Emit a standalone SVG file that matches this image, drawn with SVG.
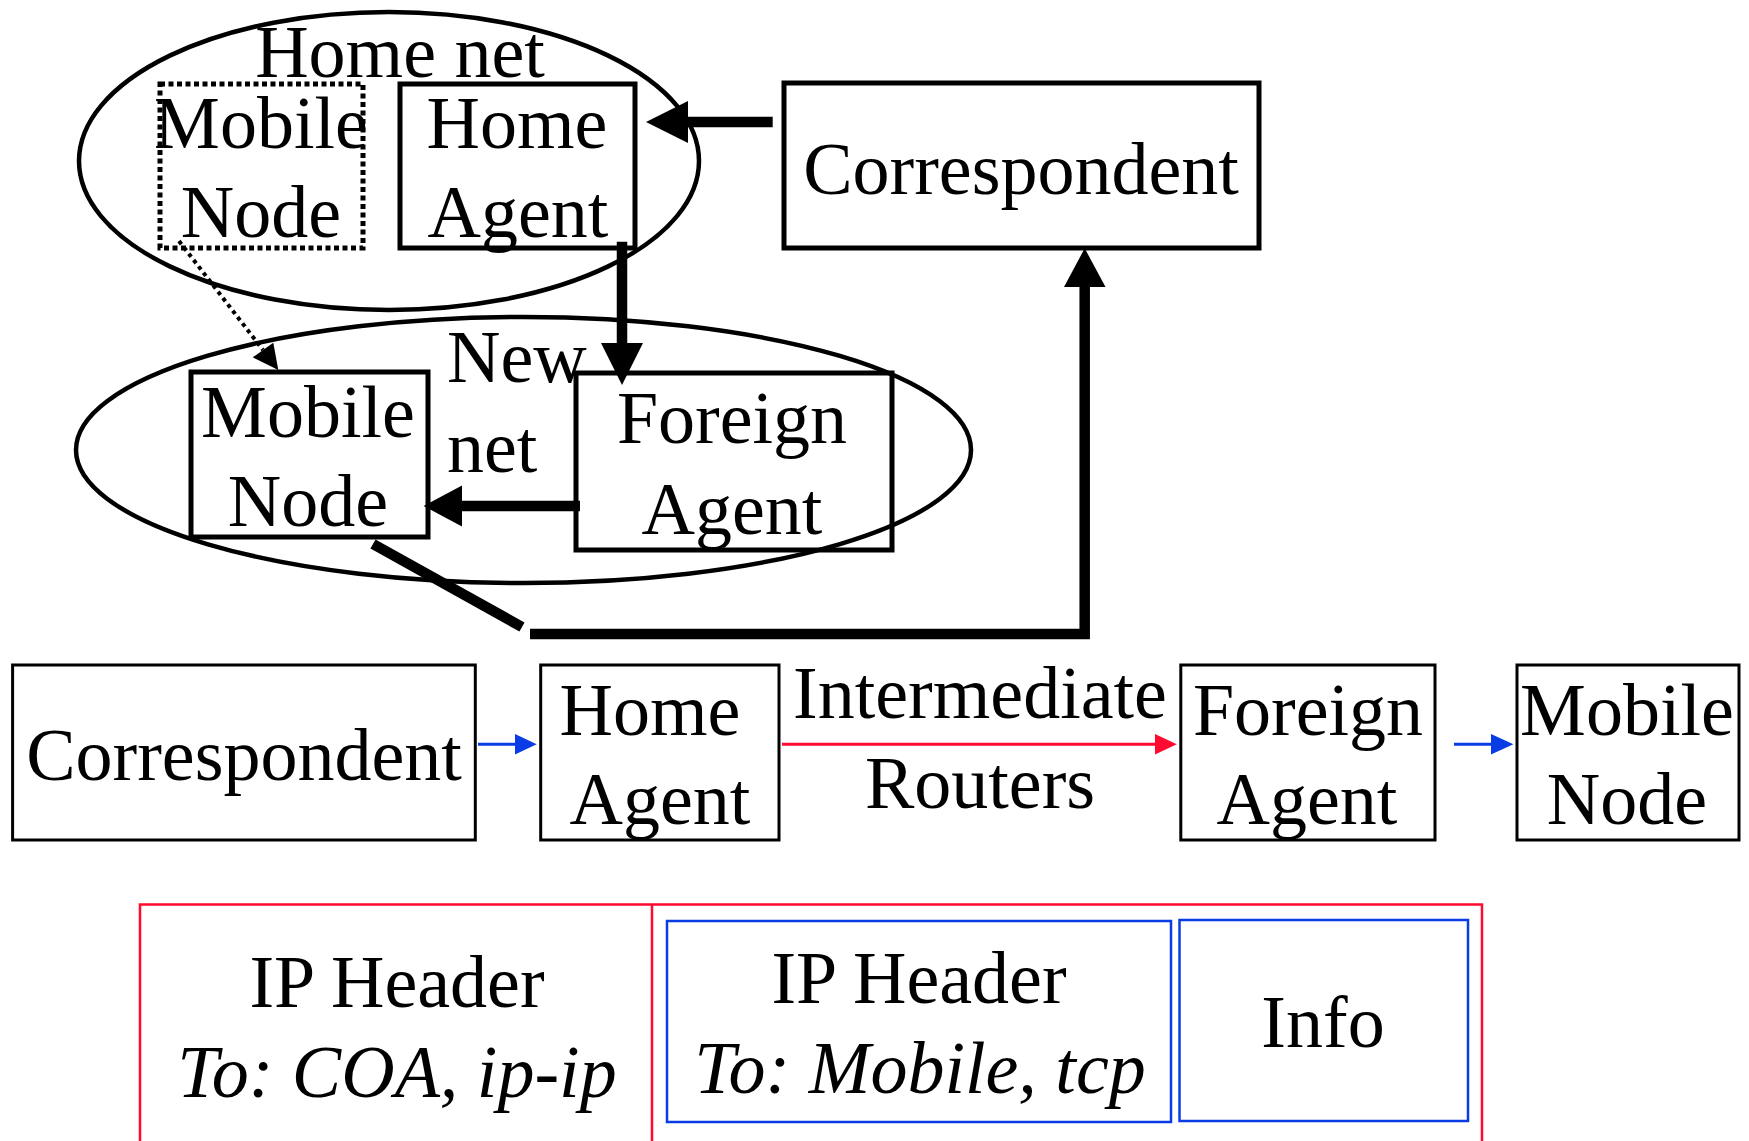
<svg xmlns="http://www.w3.org/2000/svg" width="1749" height="1141" viewBox="0 0 1749 1141">
<style>
text{font-family:"Liberation Serif","Times New Roman",serif;font-size:74px;fill:#000;text-anchor:middle}
.it{font-style:italic}
.lft{text-anchor:start}
.box{fill:none;stroke:#000;stroke-width:5}
.dot{fill:none;stroke:#000;stroke-width:5;stroke-dasharray:5 3.5}
.sbox{fill:none;stroke:#000;stroke-width:3}
.ell{fill:none;stroke:#000;stroke-width:4.5}
.thick{fill:none;stroke:#000;stroke-width:10.5}
.head{fill:#000;stroke:none}
.red{stroke:#ff0a30;fill:none;stroke-width:2.5}
.blue{stroke:#0a3ce6;fill:none;stroke-width:2.5}
</style>
<rect width="1749" height="1141" fill="#fff"/>
<g id="home-net">
<ellipse class="ell" cx="389" cy="161" rx="310" ry="149"/>
<text x="400" y="77">Home net</text>
</g>
<g id="new-net">
<ellipse class="ell" cx="523.5" cy="450" rx="447.5" ry="133"/>
<text class="lft" x="447" y="382">New</text>
<text class="lft" x="447" y="472">net</text>
</g>
<g id="old-mobile-node">
<rect class="dot" x="160" y="84" width="203" height="164"/>
<text x="261" y="148">Mobile</text>
<text x="261" y="237">Node</text>
</g>
<g id="home-agent-top">
<rect class="box" x="400" y="84" width="235" height="164"/>
<text x="517" y="148">Home</text>
<text x="518" y="237">Agent</text>
</g>
<g id="correspondent-top">
<rect class="box" x="784" y="83" width="475" height="165"/>
<text x="1021" y="194">Correspondent</text>
</g>
<g id="mobile-node-top">
<rect class="box" x="191" y="372" width="237" height="165"/>
<text x="308" y="437">Mobile</text>
<text x="308" y="526">Node</text>
</g>
<g id="foreign-agent-top">
<rect class="box" x="576" y="373" width="316" height="177"/>
<text x="732" y="443">Foreign</text>
<text x="732" y="534">Agent</text>
</g>
<g id="correspondent-bottom">
<rect class="sbox" x="12.6" y="665" width="462.7" height="175"/>
<text x="244" y="780">Correspondent</text>
</g>
<g id="home-agent-bottom">
<rect class="sbox" x="540.7" y="665" width="238.3" height="175"/>
<text x="650" y="735">Home</text>
<text x="660" y="824">Agent</text>
</g>
<g id="intermediate-routers">
<text x="980" y="718">Intermediate</text>
<text x="980" y="808">Routers</text>
</g>
<g id="foreign-agent-bottom">
<rect class="sbox" x="1180.8" y="665" width="254.2" height="175"/>
<text x="1308" y="735">Foreign</text>
<text x="1307" y="824">Agent</text>
</g>
<g id="mobile-node-bottom">
<rect class="sbox" x="1517" y="665" width="222" height="175"/>
<text x="1627" y="735">Mobile</text>
<text x="1627" y="824">Node</text>
</g>
<g id="packet">
<path class="red" d="M140,1141 V904.5 H1482 V1141 M652,904.5 V1141"/>
<text x="397" y="1007">IP Header</text>
<text class="it" x="397" y="1097">To: COA, ip-ip</text>
<rect class="blue" x="667" y="921" width="504" height="201"/>
<text x="919" y="1003">IP Header</text>
<text class="it" x="920" y="1093">To: Mobile, tcp</text>
<rect class="blue" x="1179.5" y="920" width="288.5" height="201"/>
<text x="1323" y="1047">Info</text>
</g>
<g id="connectors">
<line class="thick" x1="772.7" y1="122" x2="686" y2="122"/>
<polygon class="head" points="646,122 688,101 688,143"/>
<line class="thick" x1="622" y1="241.7" x2="622" y2="345"/>
<polygon class="head" points="622,385 601,343 643,343"/>
<line class="thick" x1="580" y1="506" x2="460" y2="506"/>
<polygon class="head" points="423.6,506 462,485.6 462,526.4"/>
<line stroke="#000" stroke-width="4" stroke-dasharray="4 4" x1="179" y1="241" x2="263" y2="350"/>
<polygon class="head" points="278.3,370 252.7,357.3 273.3,342.7"/>
<line class="thick" stroke-width="11" x1="373" y1="544" x2="522" y2="627"/>
<polyline class="thick" stroke-linejoin="miter" points="530,634 1084.7,634 1084.7,285"/>
<polygon class="head" points="1084.7,248.3 1064,287 1105.5,287"/>
<line stroke="#0a3ce6" stroke-width="3" x1="478" y1="744.3" x2="516" y2="744.3"/>
<polygon fill="#0a3ce6" points="536.7,744.3 515,734 515,754.6"/>
<line stroke="#ff0a30" stroke-width="3" x1="782" y1="744.3" x2="1156" y2="744.3"/>
<polygon fill="#ff0a30" points="1176.8,744.3 1155,734 1155,754.6"/>
<line stroke="#0a3ce6" stroke-width="3" x1="1454" y1="744.3" x2="1492" y2="744.3"/>
<polygon fill="#0a3ce6" points="1513.4,744.3 1491,734 1491,754.6"/>
</g>
</svg>
